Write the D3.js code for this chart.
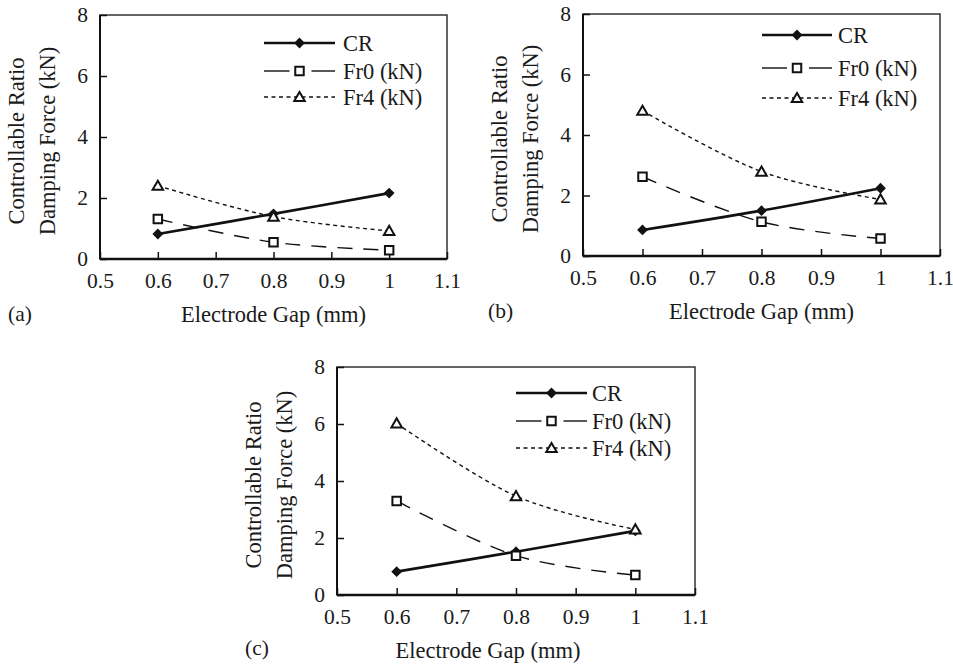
<!DOCTYPE html>
<html>
<head>
<meta charset="utf-8">
<script src="https://cdn.jsdelivr.net/npm/d3@7"></script>
<style>
  body { margin: 0; background: #fff; }
</style>
</head>
<body>
<svg id="chart" width="953" height="664"></svg>
<script>
const gaps = [0.6, 0.8, 1.0];
const xTicks = [0.5, 0.6, 0.7, 0.8, 0.9, 1.0, 1.1];
const xTickLabels = ["0.5", "0.6", "0.7", "0.8", "0.9", "1", "1.1"];
const yTicks = [0, 2, 4, 6, 8];
const seriesNames = ["CR", "Fr0 (kN)", "Fr4 (kN)"];

const crA = [0.82, 1.48, 2.16];
const fr0A = [1.31, 0.55, 0.29];
const fr4A = [2.40, 1.39, 0.92];

const crB = [0.86, 1.50, 2.24];
const fr0B = [2.62, 1.13, 0.58];
const fr4B = [4.80, 2.79, 1.87];

const crC = [0.82, 1.52, 2.25];
const fr0C = [3.30, 1.38, 0.70];
const fr4C = [6.02, 3.47, 2.30];

const FONT = "'Liberation Serif', 'Times New Roman', Times, 'DejaVu Serif', serif";

const panels = [
  { tag: "(a)", series: [crA, fr0A, fr4A], left: 100, top: 15, right: 447, bottom: 259,
    legend: { x0: 164, x1: 235, tx: 243, rows: [28, 56, 82] }, titleX: 0, tagX: 8, tagY: 313 },
  { tag: "(b)", series: [crB, fr0B, fr4B], left: 583, top: 14, right: 940, bottom: 256,
    legend: { x0: 179, x1: 249, tx: 255, rows: [21, 54, 84] }, titleX: 0, tagX: 488, tagY: 310 },
  { tag: "(c)", series: [crC, fr0C, fr4C], left: 337, top: 367, right: 695, bottom: 595,
    legend: { x0: 179, x1: 250, tx: 255, rows: [26, 54, 81] }, titleX: -28, tagX: 245, tagY: 647 }
];

const styles = [
  { dash: null, width: 2.6, symbol: "diamond" },
  { dash: "15,11", width: 1.4, symbol: "square" },
  { dash: "4,3.5", width: 1.4, symbol: "triangle" }
];

const svg = d3.select("#chart");

function marker(g, type, x, y) {
  if (type === "diamond") {
    g.append("path")
      .attr("d", d3.symbol(d3.symbolSquare, 58)())
      .attr("transform", `translate(${x},${y}) rotate(45)`)
      .attr("fill", "#111");
  } else if (type === "square") {
    g.append("path")
      .attr("d", d3.symbol(d3.symbolSquare, 72)())
      .attr("transform", `translate(${x},${y})`)
      .attr("fill", "#fff").attr("stroke", "#111").attr("stroke-width", 2);
  } else {
    g.append("path")
      .attr("d", d3.symbol(d3.symbolTriangle, 48)())
      .attr("transform", `translate(${x},${y + 1})`)
      .attr("fill", "#fff").attr("stroke", "#111").attr("stroke-width", 2);
  }
}

function label(sel, size) {
  return sel.style("font-family", FONT).style("font-size", size + "px").attr("fill", "#1a1a1a");
}

panels.forEach(p => {
  const w = p.right - p.left;
  const h = p.bottom - p.top;

  const x = d3.scaleLinear().domain([0.5, 1.1]).range([0, w]);
  const y = d3.scaleLinear().domain([0, 8]).range([h, 0]);

  const g = svg.append("g").attr("transform", `translate(${p.left},${p.top})`);

  g.append("rect")
    .attr("width", w).attr("height", h)
    .attr("fill", "none").attr("stroke", "#333").attr("stroke-width", 1.5);

  const xAxisG = g.append("g")
    .attr("transform", `translate(0,${h})`)
    .call(d3.axisBottom(x).tickValues(xTicks)
      .tickFormat((d, i) => xTickLabels[i])
      .tickSize(-7).tickPadding(14));

  const yAxisG = g.append("g")
    .call(d3.axisLeft(y).tickValues(yTicks).tickFormat(d3.format("d"))
      .tickSize(-7).tickPadding(12));

  [xAxisG, yAxisG].forEach(a => {
    a.attr("font-family", null);
    a.select(".domain").remove();
    a.selectAll(".tick line").attr("stroke", "#111").attr("stroke-width", 1.5);
    label(a.selectAll(".tick text"), 21.5);
  });

  g.append("line").attr("x1", 0).attr("x2", w).attr("y1", h).attr("y2", h)
    .attr("stroke", "#111").attr("stroke-width", 2.5);
  g.append("line").attr("x1", 0).attr("x2", 0).attr("y1", 0).attr("y2", h)
    .attr("stroke", "#111").attr("stroke-width", 2);

  const line = d3.line()
    .x((d, i) => x(gaps[i]))
    .y(d => y(d))
    .curve(d3.curveCatmullRom.alpha(0));

  const marksG = g.append("g");
  p.series.forEach((s, k) => {
    marksG.append("path")
      .attr("d", line(s))
      .attr("fill", "none")
      .attr("stroke", "#111")
      .attr("stroke-width", styles[k].width)
      .attr("stroke-dasharray", styles[k].dash);
  });
  p.series.forEach((s, k) => {
    s.forEach((v, i) => marker(marksG, styles[k].symbol, x(gaps[i]), y(v)));
  });

  // legend
  const lg = g.append("g");
  seriesNames.forEach((name, k) => {
    const ly = p.legend.rows[k];
    const mid = (p.legend.x0 + p.legend.x1) / 2;
    if (k === 1) {
      lg.append("line").attr("x1", p.legend.x0).attr("x2", mid - 10).attr("y1", ly).attr("y2", ly)
        .attr("stroke", "#111").attr("stroke-width", 1.4);
      lg.append("line").attr("x1", mid + 12).attr("x2", p.legend.x1).attr("y1", ly).attr("y2", ly)
        .attr("stroke", "#111").attr("stroke-width", 1.4);
    } else {
      lg.append("line").attr("x1", p.legend.x0).attr("x2", p.legend.x1).attr("y1", ly).attr("y2", ly)
        .attr("stroke", "#111").attr("stroke-width", styles[k].width)
        .attr("stroke-dasharray", styles[k].dash);
    }
    marker(lg, styles[k].symbol, mid, ly);
    label(lg.append("text"), 22.5)
      .attr("x", p.legend.tx).attr("y", ly).attr("dy", "0.35em")
      .text(name);
  });

  // axis titles
  const cy = h / 2 + 4;
  label(g.append("text"), 22.5)
    .attr("transform", `translate(-84,${cy}) rotate(-90)`)
    .attr("dy", "0.35em").attr("text-anchor", "middle")
    .text("Controllable Ratio");
  label(g.append("text"), 22.5)
    .attr("transform", `translate(-53,${cy}) rotate(-90)`)
    .attr("dy", "0.35em").attr("text-anchor", "middle")
    .text("Damping Force (kN)");

  label(g.append("text"), 22.5)
    .attr("x", w / 2 + p.titleX).attr("y", h + 55).attr("dy", "0.35em")
    .attr("text-anchor", "middle")
    .text("Electrode Gap (mm)");

  label(svg.append("text"), 21.5)
    .attr("x", p.tagX).attr("y", p.tagY).attr("dy", "0.35em")
    .text(p.tag);
});
</script>
</body>
</html>
